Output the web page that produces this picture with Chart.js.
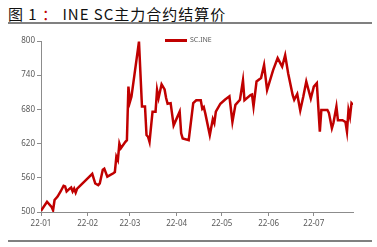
<!DOCTYPE html>
<html>
<head>
<meta charset="utf-8">
<script src="https://cdn.jsdelivr.net/npm/chart.js@4"></script>
<style>
  body { margin: 0; background: #fff; }
  .wrap { position: relative; width: 377px; height: 247px; overflow: hidden; }
  .title { position: absolute; left: 8px; top: 3px; font-family: "Noto Sans CJK SC"; font-size: 15px; color: #111; letter-spacing: 1px; white-space: nowrap; }
  .title .colon { color: #c00000; }
  .rule { position: absolute; left: 8px; width: 364px; height: 2px; background: #808080; }
  .legend { position: absolute; left: 165px; top: 35px; font-family: "Noto Sans"; font-size: 7px; color: #595959; white-space: nowrap; }
  .legend i { display: inline-block; width: 22px; height: 3px; background: #c00000; vertical-align: middle; margin-right: 3px; }
  canvas { position: absolute; left: 0; top: 0; }
</style>
</head>
<body>
<div class="wrap">
  <div class="title">图 1 <span class="colon">：</span> INE SC主力合约结算价</div>
  <div class="rule" style="top:22px"></div>
  <div class="rule" style="top:240px"></div>
  <canvas id="chart" width="377" height="247"></canvas>
  <div class="legend"><i></i><span id="legendText"></span></div>
</div>
<script>
// settlement dates (2022, MM-DD) and prices
const seriesName = 'SC.INE';
const dates = [
  '01-04','01-08','01-11','01-12','01-13','01-15','01-17','01-19','01-20','01-21','01-23','01-24','01-25','01-26','01-27','01-28',
  '02-07','02-09','02-11','02-12','02-14','02-15','02-17','02-21','02-22','02-23','02-24','02-25','02-26',
  '03-01','03-02','03-03','03-04','03-05','03-10','03-12','03-14','03-15','03-16','03-17','03-19','03-21','03-22','03-23','03-25','03-27','03-28','03-29','03-31',
  '04-02','04-06','04-07','04-08','04-12','04-15','04-17','04-20','04-21','04-22','04-23','04-26','04-28','04-29','04-30',
  '05-03','05-06','05-09','05-11','05-13','05-16','05-18','05-19','05-23','05-24','05-25','05-27','05-30',
  '06-01','06-03','06-07','06-10','06-13','06-15','06-17','06-20','06-21','06-23','06-25','06-27','06-29',
  '07-02','07-04','07-06','07-08','07-09','07-13','07-14','07-16','07-17','07-19','07-20','07-23','07-25','07-26','07-27','07-28','07-29','07-30'
];
const prices = [
  502,518,509,503,521,527,536,546,545,536,541,543,536,541,534,541,
  567,550,547,550,574,576,562,568,570,597,591,620,612,
  623,626,720,693,702,799,685,685,635,632,623,676,676,714,700,724,715,700,690,691,
  652,676,638,629,626,691,696,696,681,684,673,635,663,656,676,
  690,697,703,658,688,697,731,696,705,706,685,729,735,
  758,714,749,770,755,775,743,705,697,707,678,702,729,
  699,720,726,641,679,679,674,647,656,685,661,661,658,641,679,667,691,688
];
const tickDates = ['01-04','02-04','03-04','04-04','05-04','06-04','07-04'];
const tickLabels = ['22-01','22-02','22-03','22-04','22-05','22-06','22-07'];
const yTicks = [500, 560, 620, 680, 740, 800];

function dayOf(s) {
  const [m, d] = s.split('-').map(Number);
  return (Date.UTC(2022, m - 1, d) - Date.UTC(2022, 0, 1)) / 86400000;
}

const points = dates.map((d, i) => ({ x: dayOf(d), y: prices[i] }));
const tickDays = tickDates.map(dayOf);

const red = '#c00000';
const grey = '#595959';
const axisCol = '#8c8c8c';
const tickFont = { family: 'Noto Sans', size: 8 };

document.getElementById('legendText').textContent = seriesName;

new Chart(document.getElementById('chart'), {
  type: 'line',
  data: {
    datasets: [{
      label: seriesName,
      data: points,
      borderColor: red,
      backgroundColor: red,
      borderWidth: 2.5,
      pointRadius: 0,
      tension: 0
    }]
  },
  options: {
    responsive: false,
    animation: false,
    layout: { padding: { top: 41, right: 24, left: 0, bottom: 0 } },
    plugins: {
      tooltip: { enabled: false },
      legend: { display: false }
    },
    scales: {
      x: {
        type: 'linear',
        min: dayOf(dates[0]),
        max: dayOf(dates[dates.length - 1]),
        afterBuildTicks: axis => { axis.ticks = tickDays.map(v => ({ value: v })); },
        afterFit: axis => { axis.height = 35; },
        ticks: {
          autoSkip: false, maxRotation: 0, padding: 3, color: grey, font: tickFont,
          callback: (v, i) => tickLabels[i]
        },
        grid: { drawOnChartArea: false, tickLength: 4, color: axisCol },
        border: { color: axisCol, width: 1 }
      },
      y: {
        min: yTicks[0],
        max: yTicks[yTicks.length - 1],
        afterBuildTicks: axis => { axis.ticks = yTicks.map(v => ({ value: v })); },
        afterFit: axis => { axis.width = 41; },
        ticks: { padding: 2, color: grey, font: tickFont },
        grid: { drawOnChartArea: false, tickLength: 4, color: axisCol },
        border: { color: axisCol, width: 1 }
      }
    }
  }
});
</script>
</body>
</html>
